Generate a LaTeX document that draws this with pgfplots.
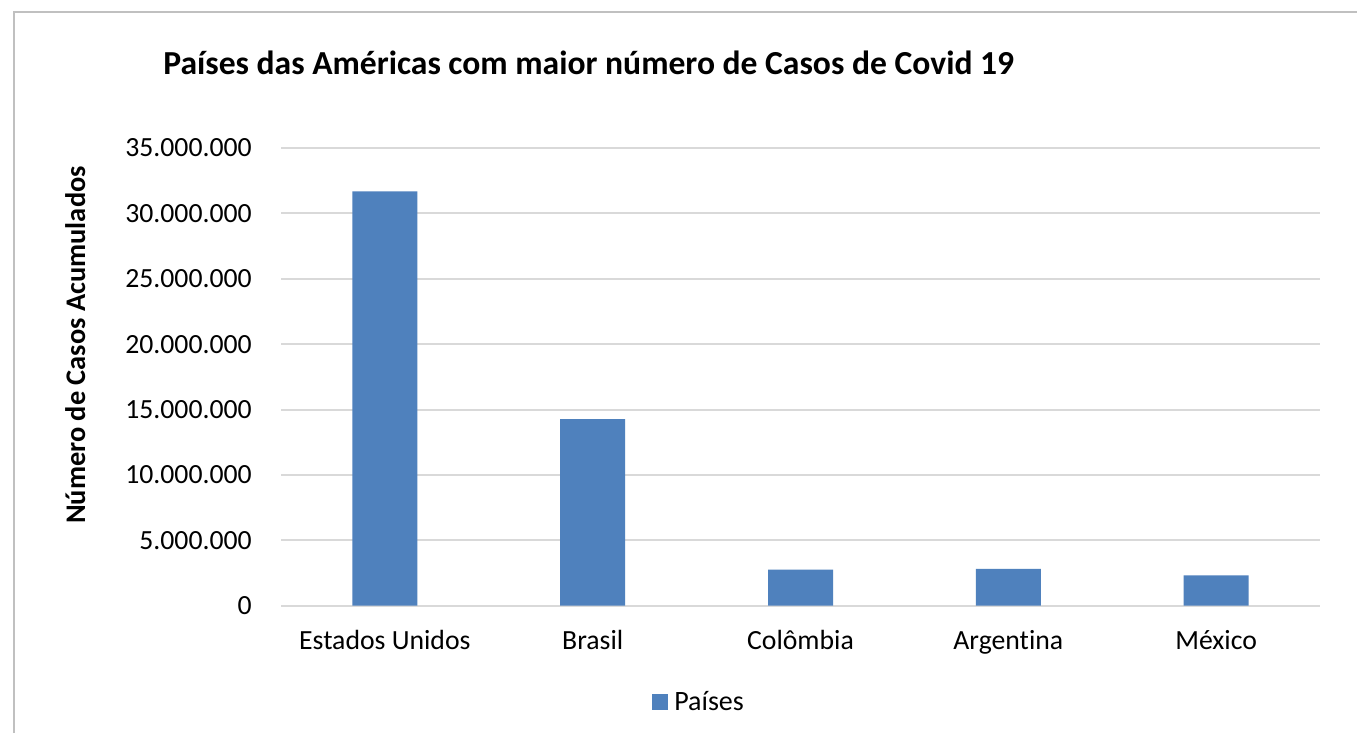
\documentclass[border=0pt]{standalone}
\usepackage{pgfplots}
\pgfplotsset{compat=1.18}
\usepackage{fontspec}
\setmainfont{Carlito}[Ligatures=NoCommon]
\definecolor{barblue}{HTML}{4F81BD}
\definecolor{gridgray}{HTML}{D9D9D9}
\definecolor{framegray}{HTML}{C0C0C0}
\begin{document}
\begin{tikzpicture}[x=0.75pt,y=0.75pt]
\path[use as bounding box, fill=white] (0,0) rectangle (1357,733);
\draw[framegray, line width=1.5pt] (14,0) -- (14,721) -- (1357,721);
\begin{axis}[
  at={(210.75pt,95.475pt)}, anchor=south west,
  scale only axis, width=779.25pt, height=343.3pt,
  xmin=-0.5, xmax=4.5, ymin=0, ymax=35000000,
  ytick={0,5000000,10000000,15000000,20000000,25000000,30000000,35000000},
  xtick={0,1,2,3,4},
  xticklabels={Estados Unidos, Brasil, Colômbia, Argentina, México},
  ymajorgrids, grid style={gridgray, line width=1.5pt},
  axis line style={draw=none}, major tick length=0pt,
  scaled y ticks=false,
  yticklabel={\pgfmathprintnumber[fixed,1000 sep={.},assume math mode=true]{\tick}},
  tick label style={font=\fontsize{20.8}{24}\selectfont},
  yticklabel style={anchor=east, inner sep=0pt, xshift=-21.75pt},
  xticklabel style={anchor=base, inner sep=0pt, yshift=-33.2pt},
  legend style={at={(0.357,-0.181)}, anchor=north west, draw=none, fill=none,
    inner sep=0pt, font=\fontsize{21}{24}\selectfont, /tikz/column sep=3pt},
  legend image code/.code={\fill[barblue] (0pt,-5.8pt) rectangle (11.6pt,5.8pt);},
]
\addplot[ybar, bar width=48.75pt, fill=barblue, draw=none]
  coordinates {(0,31680000) (1,14270000) (2,2750000) (3,2820000) (4,2320000)};
\addlegendentry{Países}
\end{axis}
\node[anchor=base west, inner sep=0pt, font=\bfseries\fontsize{25.2}{28}\selectfont] at (163,658) {Países das Américas com maior número de Casos de Covid 19};
\node[anchor=base, rotate=90, inner sep=0pt, font=\bfseries\fontsize{21.3}{24}\selectfont] at (85,388) {Número de Casos Acumulados};
\end{tikzpicture}
\end{document}
